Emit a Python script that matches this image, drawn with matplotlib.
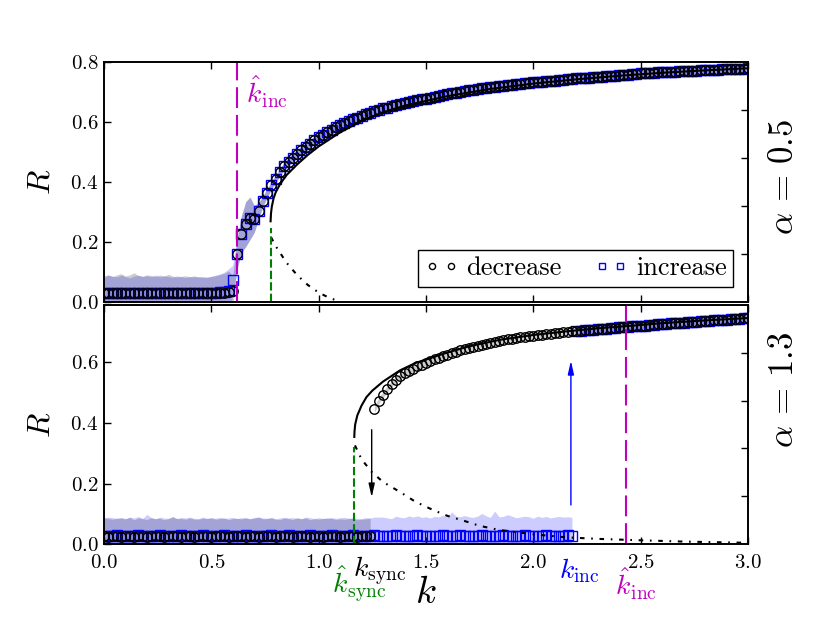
import matplotlib
matplotlib.use('Agg')
import matplotlib.pyplot as plt
import numpy as np

plt.rcParams['font.family'] = 'serif'
plt.rcParams['font.serif'] = ['cmr10']
plt.rcParams['mathtext.fontset'] = 'cm'
plt.rcParams['axes.formatter.use_mathtext'] = True
plt.rcParams['axes.linewidth'] = 1.2

# coupling strength grid (same for every sweep)
k = np.round(np.arange(0, 3.0001, 0.02), 2)

# ---------------- alpha = 0.5 ----------------
low_dec_top = [0.028, 0.027, 0.028, 0.029, 0.027, 0.028, 0.028, 0.027, 0.029, 0.028,
               0.027, 0.028, 0.028, 0.029, 0.027, 0.028, 0.027, 0.028, 0.028, 0.027,
               0.028, 0.029, 0.028, 0.027, 0.028, 0.029, 0.029, 0.030, 0.030, 0.032]
low_inc_top = [0.029, 0.028, 0.027, 0.028, 0.029, 0.028, 0.027, 0.028, 0.028, 0.029,
               0.028, 0.027, 0.029, 0.028, 0.028, 0.027, 0.028, 0.029, 0.028, 0.028,
               0.027, 0.028, 0.029, 0.028, 0.028, 0.029, 0.030, 0.031, 0.032, 0.034]
rise_top = [0.160, 0.225, 0.258, 0.278, 0.276, 0.302, 0.335, 0.362, 0.388, 0.410]
upper_top = [0.432, 0.452, 0.467, 0.481, 0.493, 0.505, 0.516, 0.527, 0.538, 0.548,
             0.557, 0.566, 0.574, 0.582, 0.590, 0.596, 0.602, 0.608, 0.614, 0.620,
             0.625, 0.630, 0.635, 0.640, 0.645, 0.648, 0.652, 0.655, 0.659, 0.662,
             0.665, 0.669, 0.672, 0.675, 0.678, 0.681, 0.684, 0.687, 0.691, 0.694,
             0.696, 0.698, 0.701, 0.703, 0.705, 0.707, 0.709, 0.712, 0.714, 0.716,
             0.718, 0.719, 0.721, 0.722, 0.724, 0.726, 0.727, 0.729, 0.730, 0.732,
             0.733, 0.734, 0.736, 0.737, 0.738, 0.740, 0.741, 0.742, 0.744, 0.745,
             0.746, 0.747, 0.748, 0.749, 0.750, 0.751, 0.752, 0.753, 0.754, 0.756,
             0.757, 0.758, 0.759, 0.760, 0.762, 0.762, 0.763, 0.764, 0.765, 0.766,
             0.766, 0.767, 0.768, 0.769, 0.769, 0.770, 0.771, 0.771, 0.772, 0.773,
             0.773, 0.774, 0.774, 0.775, 0.776, 0.776, 0.777, 0.777, 0.778, 0.779]
R_dec_top = low_dec_top + [0.036] + rise_top + upper_top
R_inc_top = low_inc_top + [0.071] + rise_top + upper_top

std_dec_top = [0.058, 0.062, 0.055, 0.060, 0.066, 0.057, 0.061, 0.069, 0.058, 0.056,
               0.062, 0.059, 0.055, 0.060, 0.057, 0.063, 0.058, 0.054, 0.056, 0.059,
               0.055, 0.057, 0.053, 0.056, 0.054, 0.055, 0.057, 0.060, 0.064, 0.070,
               0.050, 0.050, 0.060, 0.075, 0.070, 0.045, 0.028, 0.018, 0.014, 0.012,
               0.012] + [0.012] * 110
std_inc_top = [0.052, 0.060, 0.058, 0.054, 0.059, 0.055, 0.052, 0.057, 0.060, 0.055,
               0.058, 0.056, 0.060, 0.054, 0.059, 0.056, 0.053, 0.057, 0.055, 0.052,
               0.056, 0.054, 0.055, 0.053, 0.052, 0.055, 0.058, 0.061, 0.066, 0.075,
               0.050, 0.052, 0.062, 0.075, 0.072, 0.045, 0.028, 0.018, 0.015, 0.014,
               0.014] + [0.014] * 110

# mean-field branches
stab_k_top = [0.776, 0.778, 0.782, 0.79, 0.80, 0.82, 0.85, 0.90, 0.95, 1.0, 1.1, 1.2,
              1.3, 1.4, 1.5, 1.6, 1.8, 2.0, 2.2, 2.4, 2.6, 2.8, 3.0]
stab_R_top = [0.268, 0.295, 0.318, 0.345, 0.365, 0.392, 0.422, 0.458, 0.490, 0.518, 0.565, 0.603,
              0.632, 0.654, 0.670, 0.686, 0.710, 0.728, 0.742, 0.754, 0.764, 0.772, 0.779]
unst_k_top = [0.778, 0.80, 0.85, 0.90, 0.95, 1.00, 1.05, 1.10]
unst_R_top = [0.215, 0.185, 0.130, 0.088, 0.055, 0.030, 0.012, 0.0]

kinc_hat_top = 0.618
ksync_hat_top = 0.776
ksync_hat_top_R = 0.245

# ---------------- alpha = 1.3 ----------------
low_dec_bot = [0.025, 0.024, 0.025, 0.026, 0.024, 0.025, 0.025, 0.024, 0.026, 0.025,
               0.024, 0.025, 0.026, 0.025, 0.024, 0.025, 0.025, 0.026, 0.024, 0.025,
               0.025, 0.024, 0.026, 0.025, 0.025, 0.024, 0.025, 0.026, 0.025, 0.024,
               0.025, 0.025, 0.026, 0.024, 0.025, 0.025, 0.024, 0.026, 0.025, 0.025,
               0.024, 0.025, 0.026, 0.025, 0.024, 0.025, 0.025, 0.026, 0.024, 0.025,
               0.025, 0.024, 0.026, 0.025, 0.025, 0.024, 0.025, 0.026, 0.025, 0.024,
               0.025, 0.025, 0.026]
upper_bot = [0.445, 0.474, 0.494, 0.512, 0.530, 0.543, 0.555, 0.564, 0.572, 0.580,
             0.587, 0.593, 0.599, 0.605, 0.611, 0.616, 0.621, 0.626, 0.631, 0.635,
             0.640, 0.644, 0.648, 0.652, 0.656, 0.659, 0.662, 0.665, 0.668, 0.671,
             0.674, 0.677, 0.679, 0.681, 0.683, 0.685, 0.687, 0.689, 0.691, 0.692,
             0.694, 0.695, 0.697, 0.698, 0.700, 0.701, 0.703, 0.704, 0.705, 0.706,
             0.708, 0.709, 0.710, 0.711, 0.712, 0.714, 0.715, 0.716, 0.717, 0.718,
             0.719, 0.720, 0.721, 0.722, 0.724, 0.725, 0.726, 0.727, 0.728, 0.729,
             0.730, 0.731, 0.732, 0.733, 0.734, 0.735, 0.736, 0.737, 0.738, 0.739,
             0.740, 0.741, 0.742, 0.743, 0.744, 0.745, 0.746, 0.747]
low_inc_bot = [0.028, 0.027, 0.028, 0.029, 0.028, 0.027, 0.028, 0.028, 0.029, 0.027,
               0.028, 0.028, 0.027, 0.029, 0.028, 0.028, 0.027, 0.028, 0.029, 0.028,
               0.027, 0.028, 0.028, 0.029, 0.027, 0.028, 0.028, 0.027, 0.029, 0.028,
               0.028, 0.027, 0.028, 0.029, 0.028, 0.028, 0.027, 0.028, 0.028, 0.029,
               0.027, 0.028, 0.028, 0.029, 0.028, 0.027, 0.028, 0.028, 0.029, 0.027,
               0.028, 0.028, 0.027, 0.029, 0.028, 0.028, 0.027, 0.028, 0.029, 0.028,
               0.027, 0.028, 0.028, 0.029, 0.027, 0.028, 0.028, 0.027, 0.029, 0.028,
               0.028, 0.027, 0.028, 0.029, 0.028, 0.028, 0.027, 0.028, 0.028, 0.029,
               0.027, 0.028, 0.028, 0.029, 0.028, 0.027, 0.028, 0.028, 0.029, 0.027,
               0.028, 0.028, 0.027, 0.029, 0.028, 0.028, 0.027, 0.028, 0.029, 0.028,
               0.027, 0.028, 0.028, 0.029, 0.027, 0.028, 0.028, 0.027, 0.029, 0.028]
R_dec_bot = low_dec_bot + upper_bot
R_inc_bot = low_inc_bot + upper_bot[47:]

std_dec_bot = [0.062, 0.060, 0.057, 0.059, 0.061, 0.058, 0.063, 0.056, 0.060, 0.059,
               0.057, 0.062, 0.058, 0.060, 0.056, 0.059, 0.067, 0.058, 0.060, 0.057,
               0.061, 0.058, 0.056, 0.060, 0.059, 0.062, 0.057, 0.058, 0.061, 0.056,
               0.059, 0.060, 0.057, 0.062, 0.058, 0.060, 0.065, 0.057, 0.059, 0.061,
               0.058, 0.056, 0.060, 0.059, 0.057, 0.062, 0.058, 0.060, 0.056, 0.059,
               0.057, 0.061, 0.058, 0.060, 0.056, 0.059, 0.057, 0.058, 0.060, 0.056,
               0.057, 0.058, 0.059] + [0.010] * 88
std_inc_bot = [0.058, 0.062, 0.059, 0.056, 0.060, 0.057, 0.061, 0.058, 0.062, 0.057,
               0.070, 0.059, 0.056, 0.060, 0.058, 0.057, 0.061, 0.056, 0.059, 0.058,
               0.062, 0.057, 0.056, 0.060, 0.058, 0.059, 0.057, 0.061, 0.056, 0.058,
               0.060, 0.057, 0.059, 0.058, 0.056, 0.060, 0.062, 0.058, 0.057, 0.059,
               0.056, 0.058, 0.060, 0.057, 0.059, 0.058, 0.056, 0.061, 0.058, 0.057,
               0.059, 0.056, 0.060, 0.058, 0.057, 0.059, 0.061, 0.057, 0.058, 0.056,
               0.057, 0.059, 0.058, 0.060, 0.062, 0.061, 0.058, 0.057, 0.063, 0.060,
               0.059, 0.066, 0.061, 0.064, 0.060, 0.062, 0.059, 0.063, 0.062, 0.066,
               0.062, 0.078, 0.064, 0.061, 0.066, 0.063, 0.060, 0.064, 0.072, 0.066,
               0.060, 0.081, 0.063, 0.062, 0.069, 0.064, 0.060, 0.061, 0.063, 0.062,
               0.058, 0.064, 0.060, 0.062, 0.059, 0.061, 0.063, 0.062, 0.061, 0.060] + [0.012] * 41

stab_k_bot = [1.166, 1.167, 1.170, 1.18, 1.20, 1.223, 1.25, 1.30, 1.379, 1.45, 1.534, 1.60,
              1.689, 1.75, 1.844, 2.0, 2.155, 2.3, 2.466, 2.6, 2.8, 3.0]
stab_R_bot = [0.354, 0.372, 0.395, 0.425, 0.458, 0.486, 0.507, 0.537, 0.574, 0.598, 0.618, 0.633,
              0.651, 0.661, 0.675, 0.691, 0.703, 0.713, 0.722, 0.730, 0.739, 0.747]
unst_k_bot = [1.169, 1.20, 1.247, 1.30, 1.379, 1.45, 1.534, 1.60, 1.689, 1.75, 1.844, 2.0,
              2.155, 2.3, 2.466, 2.7, 3.0]
unst_R_bot = [0.326, 0.280, 0.238, 0.205, 0.172, 0.140, 0.112, 0.093, 0.074, 0.060, 0.046, 0.032,
              0.022, 0.017, 0.013, 0.008, 0.004]

ksync_hat_bot = 1.165
ksync_hat_bot_R = 0.32
kinc_hat_bot = 2.434
ksync_bot = 1.247
kinc_bot = 2.175
drop_arrow = (0.387, 0.145)
jump_arrow = (0.12, 0.615)


def band(ax, kk, R, s, color, alpha):
    R = np.array(R)
    s = np.array(s)
    ax.fill_between(kk, R - s, R + s, color=color, alpha=alpha, lw=0)


def style_axes(ax, ymax, yticks):
    ax.set_xlim(0, 3)
    ax.set_ylim(0, ymax)
    ax.set_yticks(yticks)
    ax.set_xticks([0, 0.5, 1.0, 1.5, 2.0, 2.5, 3.0])
    ax.tick_params(axis='x', direction='in', top=True, length=5, width=1, labelsize=15, pad=7)
    ax.tick_params(axis='y', direction='in', right=False, length=5, width=1, labelsize=15, pad=4)
    axr = ax.twinx()
    axr.set_ylim(0, 1)
    axr.set_yticks([0.2, 0.4, 0.6, 0.8])
    axr.tick_params(direction='in', length=5, width=1, labelright=False)
    return axr


fig = plt.figure(figsize=(8.3, 6.23), dpi=100)
ax1 = fig.add_axes([0.1253, 0.5160, 0.7759, 0.3845])
ax2 = fig.add_axes([0.1253, 0.1268, 0.7759, 0.3836])

mk = dict(ms=6.8, mew=1.0, mfc='none', ls='none')
lab = 20
dashdot = (2.2, 3.2, 0.8, 3.2)

# ---- top panel ----
band(ax1, k, R_dec_top, std_dec_top, 'gray', 0.4)
band(ax1, k, R_inc_top, std_inc_top, 'blue', 0.2)
ax1.plot(k, R_inc_top, marker='s', mec='blue', label='increase', **mk)
ax1.plot(k, R_dec_top, marker='o', mec='black', label='decrease', **mk)
ax1.plot(stab_k_top, stab_R_top, color='black', lw=1.5)
ax1.plot(unst_k_top, unst_R_top, color='black', lw=1.5, dashes=dashdot)
ax1.axvline(kinc_hat_top, color='m', lw=1.5, dashes=(10, 3.3))
ax1.plot([ksync_hat_top, ksync_hat_top], [0, ksync_hat_top_R], color='g', lw=1.5, dashes=(4, 1.5))
style_axes(ax1, 0.8, [0.0, 0.2, 0.4, 0.6, 0.8])
ax1.set_xticklabels([])
ax1.set_ylabel('$R$', fontsize=23)
ax1.yaxis.set_label_coords(-0.075, 0.5)
ax1.text(0.66, 0.70, r'$\hat{k}_{\rm inc}$', color='m', fontsize=lab, ha='left', va='center')
ax1.text(0.58, -0.127, r'$k_{\rm inc}$', color='blue', fontsize=lab, ha='center', va='baseline', clip_on=False)
ax1.text(0.862, -0.127, r'$\hat{k}_{\rm sync}$', color='g', fontsize=lab, ha='center', va='baseline', clip_on=False)
ax1.text(1.032, 0.52, r'$\alpha\,=\,0.5$', fontsize=25, rotation=90, ha='left', va='center',
         transform=ax1.transAxes)
h, l = ax1.get_legend_handles_labels()
leg = ax1.legend(h[::-1], l[::-1], loc='lower right', bbox_to_anchor=(0.977, 0.0625), borderaxespad=0,
                 ncol=2, numpoints=2, markerscale=0.65, fontsize=19, handlelength=1.3,
                 handletextpad=0.3, columnspacing=1.2, borderpad=0.25, fancybox=False,
                 framealpha=1, edgecolor='black')
leg.get_frame().set_linewidth(1.0)

# ---- bottom panel ----
n_dec = len(low_dec_bot)
n_inc = len(low_inc_bot)
band(ax2, k[:n_dec], R_dec_bot[:n_dec], std_dec_bot[:n_dec], 'gray', 0.4)
band(ax2, k[n_dec:], R_dec_bot[n_dec:], std_dec_bot[n_dec:], 'gray', 0.4)
band(ax2, k[:n_inc], R_inc_bot[:n_inc], std_inc_bot[:n_inc], 'blue', 0.2)
band(ax2, k[n_inc:], R_inc_bot[n_inc:], std_inc_bot[n_inc:], 'blue', 0.2)
ax2.plot(k, R_inc_bot, marker='s', mec='blue', **mk)
ax2.plot(k, R_dec_bot, marker='o', mec='black', **mk)
ax2.plot(stab_k_bot, stab_R_bot, color='black', lw=1.5)
ax2.plot(unst_k_bot, unst_R_bot, color='black', lw=1.5, dashes=dashdot)
ax2.axvline(kinc_hat_bot, color='m', lw=1.5, dashes=(10, 3.3))
ax2.plot([ksync_hat_bot, ksync_hat_bot], [0, ksync_hat_bot_R], color='g', lw=1.5, dashes=(4, 1.5))
ax2.annotate('', xy=(ksync_bot, drop_arrow[1]), xytext=(ksync_bot, drop_arrow[0]),
             arrowprops=dict(arrowstyle='-|>,head_width=0.18,head_length=0.8', color='black', lw=1))
ax2.annotate('', xy=(kinc_bot, jump_arrow[1]), xytext=(kinc_bot, jump_arrow[0]),
             arrowprops=dict(arrowstyle='-|>,head_width=0.18,head_length=0.8', color='blue', lw=1))
style_axes(ax2, 0.79, [0.0, 0.2, 0.4, 0.6])
ax2.set_ylabel('$R$', fontsize=23)
ax2.yaxis.set_label_coords(-0.075, 0.5)
ax2.set_xlabel('$k$', fontsize=28)
ax2.xaxis.set_label_coords(0.5, -0.13)
ax2.text(1.19, -0.163, r'$\hat{k}_{\rm sync}$', color='g', fontsize=lab, ha='center', va='baseline', clip_on=False)
ax2.text(1.285, -0.108, r'$k_{\rm sync}$', color='black', fontsize=lab, ha='center', va='baseline', clip_on=False)
ax2.text(2.215, -0.112, r'$k_{\rm inc}$', color='blue', fontsize=lab, ha='center', va='baseline', clip_on=False)
ax2.text(2.48, -0.168, r'$\hat{k}_{\rm inc}$', color='m', fontsize=lab, ha='center', va='baseline', clip_on=False)
ax2.text(1.032, 0.644, r'$\alpha\,=\,1.3$', fontsize=25, rotation=90, ha='left', va='center',
         transform=ax2.transAxes)

fig.savefig('out.png', dpi=100)
